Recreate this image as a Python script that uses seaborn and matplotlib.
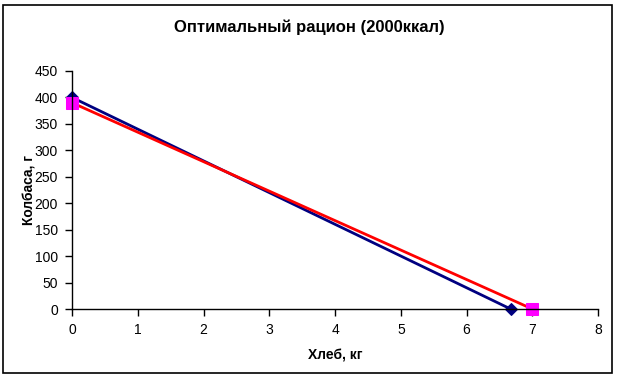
import seaborn as sns
import pandas as pd
import matplotlib.pyplot as plt
from matplotlib.patches import Rectangle

# data
bread_a = [0, 6.67]      # кг
sausage_a = [400, 0]     # г
bread_b = [0, 7]
sausage_b = [390, 0]

sns.set_theme(style="white")
plt.rcParams['font.family'] = ['Liberation Sans', 'DejaVu Sans']
plt.rcParams['text.color'] = 'black'
plt.rcParams['axes.labelcolor'] = 'black'
plt.rcParams['xtick.color'] = 'black'
plt.rcParams['ytick.color'] = 'black'

df_a = pd.DataFrame({'x': bread_a, 'y': sausage_a})
df_b = pd.DataFrame({'x': bread_b, 'y': sausage_b})

fig = plt.figure(figsize=(6.19, 3.80), dpi=100)
ax = fig.add_axes([0.1163, 0.1868, 0.850, 0.6264])

sns.lineplot(data=df_a, x='x', y='y', ax=ax, color='#000080', lw=2,
             marker='D', markersize=6, markeredgecolor='#000080', clip_on=False)
sns.lineplot(data=df_b, x='x', y='y', ax=ax, color='#FF0000', lw=2,
             marker='s', markersize=8, markerfacecolor='#FF00FF',
             markeredgecolor='#FF00FF', clip_on=False)

ax.set_xlim(0, 8)
ax.set_ylim(0, 450)
ax.set_xticks(range(0, 9))
ax.set_yticks(range(0, 451, 50))
sns.despine(ax=ax)
for s in ['left', 'bottom']:
    ax.spines[s].set_color('black')
    ax.spines[s].set_linewidth(1)
ax.tick_params(axis='both', direction='out', length=5, width=1, color='black',
               labelcolor='black', labelsize=10, pad=5, left=True, bottom=True)

fig.text(0.5, 0.929, 'Оптимальный рацион (2000ккал)', fontsize=12,
         fontweight='bold', ha='center', va='center', color='black')
ax.set_xlabel('Хлеб, кг', fontsize=10, fontweight='bold', labelpad=8)
ax.set_ylabel('Колбаса, г', fontsize=10, fontweight='bold', labelpad=-1)

fig.patches.append(Rectangle((0.005, 0.018), 0.984, 0.968, transform=fig.transFigure,
                             fill=False, edgecolor='black', lw=1.2))

fig.savefig('out.png', dpi=100)
